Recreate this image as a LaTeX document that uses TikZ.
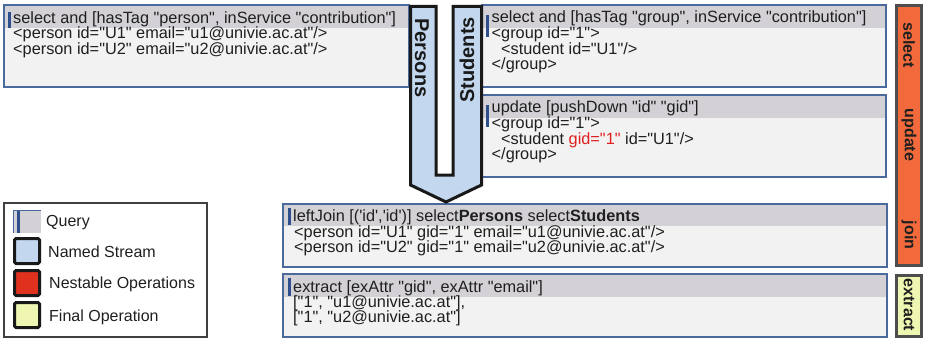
\documentclass[tikz,border=0pt]{standalone}
\usepackage{fontspec}
\setmainfont{Liberation Sans}[Ligatures=TeXOff]
\definecolor{hdrc}{HTML}{D3D1D5}
\definecolor{bodyc}{HTML}{F1F2F1}
\definecolor{boxline}{HTML}{4A6A9E}
\definecolor{qbarc}{HTML}{2E4E8C}
\definecolor{streamc}{HTML}{C3D8EF}
\definecolor{orangec}{HTML}{F26A3C}
\definecolor{yellowc}{HTML}{EEF6B2}
\definecolor{redc}{HTML}{E0301E}
\definecolor{opline}{HTML}{4D4D4D}
\definecolor{gidc}{HTML}{E02020}
\begin{document}
\begin{tikzpicture}[x=1pt,y=-1pt]
\tikzset{
 tx/.style={font=\fontsize{16.3}{16}\selectfont, inner sep=0pt, anchor=base west, text=black!88},
 boxfill/.style={fill=bodyc},
 hdrfill/.style={fill=hdrc},
 boxedge/.style={draw=boxline, line width=1.2pt},
 qbar/.style={fill=qbarc},
 opbox/.style={draw=opline, line width=3pt},
 oplbl/.style={font=\fontsize{16}{16}\selectfont\bfseries, rotate=-90, text=black!88, inner sep=0pt},
 strm/.style={font=\fontsize{20}{20}\selectfont\bfseries, text=black!90, inner sep=0pt},
 legsq/.style={draw=black!90, line width=3pt, rounded corners=1.5pt},
 legtx/.style={font=\fontsize{16}{16}\selectfont, inner sep=0pt, anchor=west, text=black!88},
}
\useasboundingbox (0,0) rectangle (925,339);

% ---- left box (select persons)
\fill[boxfill] (4,5) rectangle (409,87);
\fill[hdrfill] (4,5) rectangle (409,28);
\fill[qbar] (7.5,12) rectangle (10.5,28);
\draw[boxedge] (4,5) rectangle (409,87);
\node[tx] (p0) at (13,23.5) {select and [hasTag "person", inService "contribution"]};
\node[tx] (p1) at (13,39) {<person id="U1" email="u1@univie.ac.at"/>};
\node[tx] (p2) at (13,54.5) {<person id="U2" email="u2@univie.ac.at"/>};

% ---- top right box (select students)
\fill[boxfill] (482,5) rectangle (886,87);
\fill[hdrfill] (482,5) rectangle (886,28);
\fill[qbar] (486,15) rectangle (489,37);
\draw[boxedge] (482,5) rectangle (886,87);
\node[tx] (s0) at (491.5,23) {select and [hasTag "group", inService "contribution"]};
\node[tx] (s1) at (491.5,38.5) {<group id="1">};
\node[tx] (s2) at (501,54.5) {<student id="U1"/>};
\node[tx] (s3) at (491.5,70) {</group>};

% ---- update box
\fill[boxfill] (482,95) rectangle (886,177);
\fill[hdrfill] (482,95) rectangle (886,118);
\fill[qbar] (486,105) rectangle (489,127);
\draw[boxedge] (482,95) rectangle (886,177);
\node[tx] (u0) at (491.5,113) {update [pushDown "id" "gid"]};
\node[tx] (u1) at (491.5,128.5) {<group id="1">};
\node[tx] (u2) at (501,144.5) {<student \textcolor{gidc}{gid="1"} id="U1"/>};
\node[tx] (u3) at (491.5,160) {</group>};

% ---- join box
\fill[boxfill] (283,204) rectangle (887,267);
\fill[hdrfill] (283,204) rectangle (887,226);
\fill[qbar] (288,208) rectangle (291,225);
\draw[boxedge] (283,204) rectangle (887,267);
\node[tx] (j0) at (293,221.5) {leftJoin [('id','id')] select\textbf{Persons} select\textbf{Students}};
\node[tx] (j1) at (294,237) {<person id="U1" gid="1" email="u1@univie.ac.at"/>};
\node[tx] (j2) at (294,252) {<person id="U2" gid="1" email="u2@univie.ac.at"/>};

% ---- extract box
\fill[boxfill] (283,274) rectangle (887,337);
\fill[hdrfill] (283,274) rectangle (887,297);
\fill[qbar] (288,278) rectangle (291,296);
\draw[boxedge] (283,274) rectangle (887,337);
\node[tx] (e0) at (293,292) {extract [exAttr "gid", exAttr "email"]};
\node[tx] (e1) at (293,307.5) {["1", "u1@univie.ac.at"],};
\node[tx] (e2) at (293,322.5) {["1", "u2@univie.ac.at"]};

% ---- named streams arrow
\draw[fill=streamc, draw=black!90, line width=3pt, line join=miter]
  (410.5,6.5) -- (410.5,185) -- (446,202) -- (481.5,185) -- (481.5,6.5)
  -- (453,6.5) -- (453,175) -- (436,175) -- (436,6.5) -- cycle;
\node[strm, rotate=-90] (persons) at (422,58) {Persons};
\node[strm, rotate=90] (students) at (467,60) {Students};

% ---- operation bars
\draw[opbox, fill=orangec] (896.5,5.5) rectangle (921.5,265.5);
\draw[opbox, fill=yellowc] (896.5,275.5) rectangle (921.5,336);
\node[oplbl] (oselect) at (909,45) {select};
\node[oplbl] (oupdate) at (909,135) {update};
\node[oplbl] (ojoin) at (909,235) {join};
\node[oplbl] (oextract) at (909,305) {extract};

% ---- legend
\draw[draw=black!75, line width=1.3pt] (4,203) rectangle (207,337);
\fill[hdrc] (13,210) rectangle (41,233);
\draw[boxline, line width=0.8pt] (13.4,233) -- (13.4,210.4) -- (41,210.4);
\fill[qbar] (17,211) rectangle (20,233);
\node[legtx] (lq) at (46,223) {Query};
\draw[legsq, fill=streamc] (14.5,238.5) rectangle (39.5,263.5);
\node[legtx] (ls) at (48,252) {Named Stream};
\draw[legsq, fill=redc] (14.5,270.5) rectangle (39.5,295.5);
\node[legtx] (ln) at (49,284) {Nestable Operations};
\draw[legsq, fill=yellowc] (14.5,302.5) rectangle (39.5,327.5);
\node[legtx] (lf) at (49,317) {Final Operation};
\end{tikzpicture}
\end{document}
